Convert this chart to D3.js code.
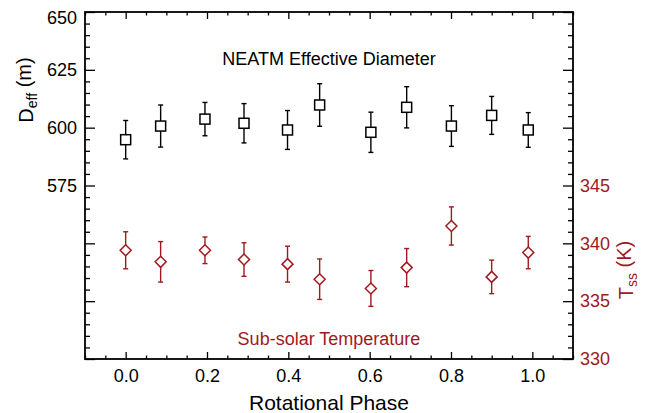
<!DOCTYPE html>
<html>
<head>
<meta charset="utf-8">
<script src="https://cdn.jsdelivr.net/npm/d3@7"></script>
<style>
  body { margin: 0; background: #fff; }
  svg { display: block; font-family: "Liberation Sans", Arial, sans-serif; }
</style>
</head>
<body>
<svg width="656" height="413"></svg>
<script>
// data
var phase    = [0.000, 0.086, 0.195, 0.291, 0.398, 0.477, 0.603, 0.691, 0.801, 0.900, 0.990];
var deff     = [594.8, 600.7, 603.7, 601.9, 599.0, 609.8, 598.0, 608.8, 600.7, 605.3, 599.0];
var deffErr  = [8.3, 9.1, 7.2, 8.5, 8.4, 9.2, 8.7, 8.9, 8.8, 8.2, 7.5];
var tss      = [339.4, 338.4, 339.4, 338.6, 338.2, 336.9, 336.1, 337.9, 341.5, 337.1, 339.2];
var tssErr   = [1.6, 1.75, 1.15, 1.45, 1.55, 1.75, 1.55, 1.65, 1.65, 1.45, 1.4];

var xTicks      = [0.0, 0.2, 0.4, 0.6, 0.8, 1.0];
var leftTicks   = [500, 525, 550, 575, 600, 625, 650];
var leftLabels  = [575, 600, 625, 650];
var rightTicks  = [330, 335, 340, 345, 350, 355, 360];
var rightLabels = [330, 335, 340, 345];

var red = "#a0191e";

// plot box (note: "top" is taken by window.top)
var svg = d3.select("svg"),
    pLeft = 85, pRight = 573, pTop = 12, pBottom = 359;

var x  = d3.scaleLinear().domain([-0.1, 1.1]).range([pLeft, pRight]);
var yL = d3.scaleLinear().domain([500, 650]).range([pBottom, pTop]);
var yR = d3.scaleLinear().domain([330, 360]).range([pBottom, pTop]);

function minor(lo, hi, step, majors) {
  return d3.range(lo, hi + step / 2, step)
    .map(function(v) { return +v.toFixed(4); })
    .filter(function(v) { return majors.indexOf(v) < 0; });
}

function styleAxis(g, color) {
  g.select(".domain").remove();
  g.selectAll("line").attr("stroke", "#000").attr("stroke-width", 1.3);
  g.selectAll("text").attr("fill", color).style("font-size", "18px")
    .attr("font-family", "Liberation Sans, Arial, sans-serif");
}

// bottom axis
var gx = svg.append("g").attr("transform", "translate(0," + pBottom + ")")
  .call(d3.axisBottom(x).tickValues(xTicks).tickSize(-7).tickPadding(10)
    .tickFormat(d3.format(".1f")));
styleAxis(gx, "#000");
svg.append("g").attr("transform", "translate(0," + pBottom + ")")
  .call(d3.axisBottom(x).tickValues(minor(-0.1, 1.1, 0.05, xTicks)).tickSize(-3.5).tickFormat(""))
  .call(styleAxis, "#000");

// top axis
svg.append("g").attr("transform", "translate(0," + pTop + ")")
  .call(d3.axisTop(x).tickValues(xTicks).tickSize(-7).tickFormat(""))
  .call(styleAxis, "#000");
svg.append("g").attr("transform", "translate(0," + pTop + ")")
  .call(d3.axisTop(x).tickValues(minor(-0.1, 1.1, 0.05, xTicks)).tickSize(-3.5).tickFormat(""))
  .call(styleAxis, "#000");

// left axis (diameter)
var gl = svg.append("g").attr("transform", "translate(" + pLeft + ",0)")
  .call(d3.axisLeft(yL).tickValues(leftTicks).tickSize(-10).tickPadding(8)
    .tickFormat(function(d) { return leftLabels.indexOf(d) >= 0 ? d : ""; }));
styleAxis(gl, "#000");
gl.selectAll(".tick text").filter(function(d) { return d === 650; }).attr("dy", "0.65em");
svg.append("g").attr("transform", "translate(" + pLeft + ",0)")
  .call(d3.axisLeft(yL).tickValues(minor(500, 650, 5, leftTicks)).tickSize(-5).tickFormat(""))
  .call(styleAxis, "#000");

// right axis (temperature)
var gr = svg.append("g").attr("transform", "translate(" + pRight + ",0)")
  .call(d3.axisRight(yR).tickValues(rightTicks).tickSize(-10).tickPadding(7)
    .tickFormat(function(d) { return rightLabels.indexOf(d) >= 0 ? d : ""; }));
styleAxis(gr, red);
svg.append("g").attr("transform", "translate(" + pRight + ",0)")
  .call(d3.axisRight(yR).tickValues(minor(330, 360, 1, rightTicks)).tickSize(-5).tickFormat(""))
  .call(styleAxis, red);

// frame
svg.append("rect")
  .attr("x", pLeft).attr("y", pTop)
  .attr("width", pRight - pLeft).attr("height", pBottom - pTop)
  .attr("fill", "none").attr("stroke", "#000").attr("stroke-width", 1.8);

// error bars + markers
function drawSeries(vals, errs, y, color, shape) {
  var g = svg.append("g");
  var pts = phase.map(function(p, i) { return {p: p, v: vals[i], e: errs[i]}; });
  var cap = 2.5;
  var eb = g.selectAll(".eb").data(pts).enter().append("g")
    .attr("stroke", color).attr("stroke-width", 1.4).attr("fill", "none");
  eb.append("line")
    .attr("x1", function(d) { return x(d.p); }).attr("x2", function(d) { return x(d.p); })
    .attr("y1", function(d) { return y(d.v - d.e); }).attr("y2", function(d) { return y(d.v + d.e); });
  eb.append("line")
    .attr("x1", function(d) { return x(d.p) - cap; }).attr("x2", function(d) { return x(d.p) + cap; })
    .attr("y1", function(d) { return y(d.v + d.e); }).attr("y2", function(d) { return y(d.v + d.e); });
  eb.append("line")
    .attr("x1", function(d) { return x(d.p) - cap; }).attr("x2", function(d) { return x(d.p) + cap; })
    .attr("y1", function(d) { return y(d.v - d.e); }).attr("y2", function(d) { return y(d.v - d.e); });

  if (shape === "square") {
    g.selectAll(".m").data(pts).enter().append("rect")
      .attr("x", function(d) { return x(d.p) - 5; })
      .attr("y", function(d) { return y(d.v) - 5; })
      .attr("width", 10).attr("height", 10)
      .attr("fill", "#fff").attr("stroke", color).attr("stroke-width", 1.5);
  } else {
    g.selectAll(".m").data(pts).enter().append("path")
      .attr("d", function(d) {
        var cx = x(d.p), cy = y(d.v), r = 5.5;
        return "M" + cx + "," + (cy - r) + "L" + (cx + r) + "," + cy +
               "L" + cx + "," + (cy + r) + "L" + (cx - r) + "," + cy + "Z";
      })
      .attr("fill", "#fff").attr("stroke", color).attr("stroke-width", 1.5);
  }
}

drawSeries(deff, deffErr, yL, "#000", "square");
drawSeries(tss, tssErr, yR, red, "diamond");

// annotations
svg.append("text").attr("x", x(0.5)).attr("y", 65)
  .attr("text-anchor", "middle").style("font-size", "18px")
  .text("NEATM Effective Diameter");
svg.append("text").attr("x", x(0.5)).attr("y", 345)
  .attr("text-anchor", "middle").style("font-size", "18px").attr("fill", red)
  .text("Sub-solar Temperature");

// axis titles
svg.append("text").attr("x", x(0.5)).attr("y", 410)
  .attr("text-anchor", "middle").style("font-size", "21px")
  .text("Rotational Phase");

var lt = svg.append("text")
  .attr("transform", "translate(33,90) rotate(-90)")
  .attr("text-anchor", "middle").style("font-size", "20px");
lt.append("tspan").text("D");
lt.append("tspan").attr("dy", "0.3em").style("font-size", "14px").text("eff");
lt.append("tspan").attr("dy", "-0.3em").text(" (m)");

var rt = svg.append("text")
  .attr("transform", "translate(633,270) rotate(-90)")
  .attr("text-anchor", "middle").style("font-size", "20px").attr("fill", red);
rt.append("tspan").text("T");
rt.append("tspan").attr("dy", "0.3em").style("font-size", "14px").text("ss");
rt.append("tspan").attr("dy", "-0.3em").text(" (K)");
</script>
</body>
</html>
